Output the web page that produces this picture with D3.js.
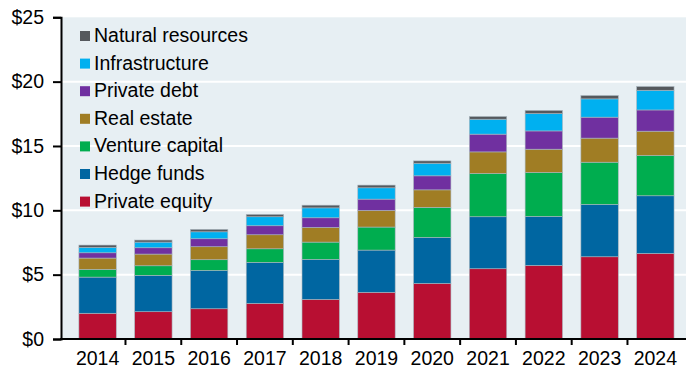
<!DOCTYPE html>
<html>
<head>
<meta charset="utf-8">
<script src="https://cdn.jsdelivr.net/npm/d3@7"></script>
<style>
  html, body { margin: 0; padding: 0; background: #ffffff; }
  svg { display: block; }
  text { font-family: "Liberation Sans", Arial, sans-serif; fill: #000; }
</style>
</head>
<body>
<svg id="chart" width="686" height="373"></svg>
<script>
// Alternative assets, trillions of US dollars, by year
const years = ["2014", "2015", "2016", "2017", "2018", "2019", "2020", "2021", "2022", "2023", "2024"];
const privateEquity    = [2.00, 2.12, 2.35, 2.77, 3.08, 3.63, 4.32, 5.46, 5.72, 6.39, 6.65];
const hedgeFunds       = [2.81, 2.83, 2.98, 3.19, 3.11, 3.28, 3.58, 4.04, 3.81, 4.07, 4.48];
const ventureCapital   = [0.60, 0.74, 0.83, 1.05, 1.34, 1.79, 2.33, 3.36, 3.41, 3.28, 3.13];
const realEstate       = [0.88, 0.91, 1.01, 1.09, 1.14, 1.29, 1.36, 1.68, 1.81, 1.87, 1.89];
const privateDebt      = [0.41, 0.49, 0.62, 0.70, 0.75, 0.88, 1.09, 1.38, 1.42, 1.63, 1.65];
const infrastructure   = [0.42, 0.44, 0.54, 0.70, 0.77, 0.88, 0.98, 1.16, 1.35, 1.42, 1.53];
const naturalResources = [0.18, 0.16, 0.19, 0.18, 0.21, 0.21, 0.18, 0.21, 0.24, 0.26, 0.29];

const seriesNames  = ["Private equity", "Hedge funds", "Venture capital", "Real estate", "Private debt", "Infrastructure", "Natural resources"];
const seriesValues = [privateEquity, hedgeFunds, ventureCapital, realEstate, privateDebt, infrastructure, naturalResources];
const seriesColors = ["#b80f32", "#0066a1", "#00ad4f", "#a07d24", "#7030a0", "#00b0f0", "#55595d"];
const yTicks = [0, 5, 10, 15, 20, 25];

const svg = d3.select("#chart");
const W = 686;
const plot = { left: 61, top: 17.3, bottom: 339 };
const fontSize = 19.5;

const x = d3.scaleBand().domain(years).range([60.5, 60.5 + 11 * 57.45]).padding(0.33);
const y = d3.scaleLinear().domain([0, 25]).range([plot.bottom, plot.top]);

// plot background
svg.append("rect")
  .attr("x", plot.left).attr("y", plot.top)
  .attr("width", W - plot.left).attr("height", plot.bottom - plot.top)
  .attr("fill", "#e7eff3");

// horizontal gridlines
svg.append("g").selectAll("line")
  .data(yTicks.filter(d => d > 0 && d < 25))
  .join("line")
  .attr("x1", plot.left).attr("x2", W)
  .attr("y1", d => y(d)).attr("y2", d => y(d))
  .attr("stroke", "#ffffff").attr("stroke-width", 2);

// stacked bars
const rows = years.map((yr, i) => {
  const r = { year: yr };
  seriesNames.forEach((s, k) => { r[s] = seriesValues[k][i]; });
  return r;
});
const stacked = d3.stack().keys(seriesNames)(rows);

svg.append("g").selectAll("g")
  .data(stacked)
  .join("g")
  .attr("fill", (d, k) => seriesColors[k])
  .selectAll("rect")
  .data(d => d)
  .join("rect")
  .attr("x", d => x(d.data.year))
  .attr("width", x.bandwidth())
  .attr("y", d => y(d[1]))
  .attr("height", d => y(d[0]) - y(d[1]))
  .attr("stroke", "#a9b6bf")
  .attr("stroke-width", 0.6);

// y axis
const yAxis = d3.axisLeft(y).tickValues(yTicks).tickFormat(d => "$" + d).tickSize(8).tickPadding(9);
const gy = svg.append("g").attr("transform", `translate(${plot.left},0)`).call(yAxis);
gy.select(".domain").attr("stroke", "#000").attr("stroke-width", 2);
gy.selectAll(".tick line").attr("stroke", "#000").attr("stroke-width", 2);
gy.selectAll(".tick text").attr("font-size", fontSize).attr("font-family", "Liberation Sans, Arial, sans-serif").attr("fill", "#000");

// x axis: labels centred under bars, ticks between bands
const xAxis = d3.axisBottom(x).tickSize(0).tickPadding(12);
const gx = svg.append("g").attr("transform", `translate(0,${plot.bottom})`).call(xAxis);
gx.select(".domain").remove();
gx.selectAll(".tick text").attr("font-size", fontSize).attr("font-family", "Liberation Sans, Arial, sans-serif").attr("fill", "#000");

svg.append("line")
  .attr("x1", plot.left - 1).attr("x2", W)
  .attr("y1", plot.bottom).attr("y2", plot.bottom)
  .attr("stroke", "#000").attr("stroke-width", 2);

svg.append("g").selectAll("line")
  .data(years.slice(1))
  .join("line")
  .attr("x1", d => x(d) - x.step() * x.paddingInner() / 2)
  .attr("x2", d => x(d) - x.step() * x.paddingInner() / 2)
  .attr("y1", plot.bottom).attr("y2", plot.bottom + 6)
  .attr("stroke", "#000").attr("stroke-width", 2);

// legend, top entry = top of the stack
const legendOrder = seriesNames.map((s, k) => k).reverse();
const lg = svg.append("g").selectAll("g")
  .data(legendOrder)
  .join("g")
  .attr("transform", (k, j) => `translate(80,${31 + j * 27.6})`);
lg.append("rect").attr("width", 10).attr("height", 10).attr("fill", k => seriesColors[k]);
lg.append("text")
  .attr("x", 14).attr("y", 10.9)
  .attr("font-size", fontSize)
  .text(k => seriesNames[k]);
</script>
</body>
</html>
